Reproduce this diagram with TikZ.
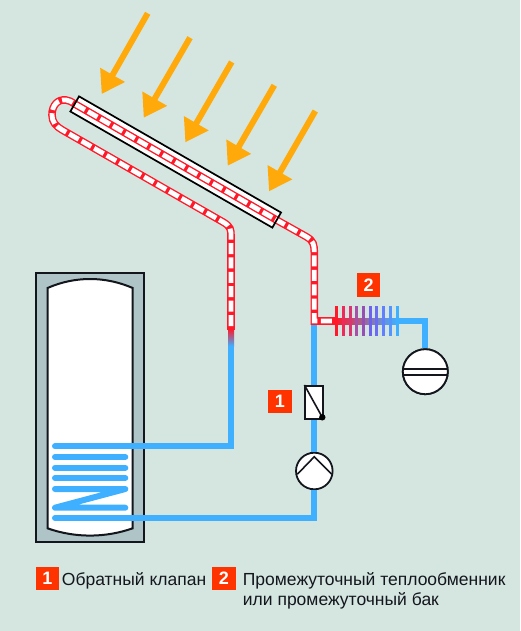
\documentclass[tikz,border=0pt]{standalone}
\usepackage{fontspec}
\setmainfont{Liberation Sans}
\usetikzlibrary{arrows.meta,calc}
\definecolor{bgc}{HTML}{D4E6DF}
\definecolor{tankc}{HTML}{AEC4C6}
\definecolor{pipeb}{HTML}{3FB0FF}
\definecolor{piper}{HTML}{FF1A2A}
\definecolor{sun}{HTML}{FFAA0A}
\definecolor{badgec}{HTML}{FF3300}
\definecolor{ink}{HTML}{14161E}
\tikzset{
  x=1pt,y=-1pt,
  sunray/.style={draw=sun,line width=6pt,-{Triangle[length=22pt,width=27pt,fill=sun]}},
  bluepipe/.style={draw=pipeb,line width=6pt},
  coil/.style={draw=pipeb,line width=6pt,line cap=round,line join=round},
  redouter/.style={draw=piper,line width=7.6pt},
  redinner/.style={draw=white,line width=4.8pt,dash pattern=on 11pt off 3.4pt},
  badge/.style={fill=badgec,minimum size=23.5pt,inner sep=0pt,text=white,font=\fontsize{18}{18}\selectfont\bfseries},
  label/.style={font=\fontsize{17.5}{19.3}\selectfont,text=ink,inner sep=0pt,anchor=base west,align=left},
  sym/.style={draw=ink,line width=1.8pt,fill=white,inner sep=0pt},
  fin/.style={line width=3pt},
}
\begin{document}
\begin{tikzpicture}
\useasboundingbox (0,0) rectangle (520,631);
\fill[bgc] (0,0) rectangle (520,631);
% tank
\node[draw=ink,fill=tankc,line width=1.7pt,minimum width=108pt,minimum height=268.4pt,inner sep=0pt] (tank) at (90.2,407.5) {};
\draw[draw=ink,fill=white,line width=2pt] (47.5,288) .. controls (75,276) and (105,276) .. (132.7,288) -- (132.7,528.3) .. controls (105,538) and (75,538) .. (47.5,528.3) -- cycle;
% sun rays
\coordinate (r1a) at (147.7,13.3); \coordinate (r1b) at (101.7,94);
\coordinate (r2a) at (190,37.7);   \coordinate (r2b) at (143.7,117.7);
\coordinate (r3a) at (231.7,62);   \coordinate (r3b) at (185.3,142.3);
\coordinate (r4a) at (274.3,85.3); \coordinate (r4b) at (227.7,165.7);
\coordinate (r5a) at (315.3,111);  \coordinate (r5b) at (269,191.3);
\foreach \k in {1,...,5} \draw[sunray] (r\k a) -- (r\k b);
% collector
\node[fill=white,minimum width=233pt,minimum height=17.4pt,inner sep=0pt,rotate=-29.9] (coll) at (175.7,162) {};
% blue circuit
\coordinate (j) at (314.3,321);
\coordinate (feed) at (231,340);
\coordinate (ctop) at (55,446.3);
\coordinate (cbot) at (55,518);
\node[sym,circle,minimum size=36.6pt] (pump) at (314.3,471) {};
\node[sym,minimum width=18pt,minimum height=33.4pt] (valve) at (314.3,402.6) {};
\node[sym,circle,minimum size=45pt] (comp) at (425.3,371.7) {};
\draw[bluepipe] (feed) -- (231,446.3) -- (ctop);
\draw[bluepipe] (cbot) -- (314.3,518) -- (pump.south);
\draw[bluepipe] (pump.north) -- (valve.south);
\draw[bluepipe] (valve.north) -- (j);
\draw[coil] (ctop) -- (ctop -| tank.center);
\draw[coil] (55,457) -- (125.3,457);
\draw[coil] (55,467.7) -- (125.3,467.7);
\draw[coil] (55,478) -- (125.3,478);
\draw[coil] (55,489) -- (125.3,489) -- (55,507.7) -- (125.3,507.7);
\draw[coil] (cbot) -- (cbot -| tank.center);
% colour change on the feed pipe
\fill[piper] (227.2,322) rectangle (234.8,330);
\shade[top color=piper,bottom color=pipeb,middle color=piper!50!pipeb] (228,329) rectangle (234,346);
% solar loop
\path (coll.west) coordinate (cw) (coll.east) coordinate (ce);
\def\solar{(231,326) -- (231,236) .. controls (231,230) and (231,226.6) .. (223,222) -- (62,129.8)
  .. controls (56,126.4) and (52,122) .. (52,115) .. controls (52,105) and (58,99) .. (66,100) .. controls (69,100.4) and (72,101.8) .. (cw) -- (ce) -- (306,236.5)
  .. controls (314,241) and (314,245) .. (314.3,252) -- (j) -- (336,321)}
\draw[redouter] \solar;
\draw[redinner] \solar;
% collector frame
\node[draw=black,line width=1.7pt,minimum width=233pt,minimum height=17.4pt,inner sep=0pt,rotate=-29.9] at (coll.center) {};
% exchanger
\shade[left color=piper,right color=pipeb,middle color=piper!45!pipeb] (335,318) rectangle (397,324);
\draw[bluepipe] (397,321) -- (425.3,321) -- (comp.north);
\foreach \fx/\fc in {336.7/FF1A2A,343.4/EE2A5C,350.1/DC3470,356.8/A84FA8,363.5/9450B4,370.2/6C62EE,376.9/6A6CF4,383.6/6080FF,390.3/5494FF,397/3FB0FF}
  {\definecolor{fc}{HTML}{\fc}\draw[fin,draw=fc] (\fx,306) -- (\fx,336);}
% compressor
\node[sym,circle,minimum size=45pt] (comp2) at (comp.center) {};
\draw[draw=ink,line width=1.8pt] (403.1,369) -- (447.5,369) (403.1,375) -- (447.5,375);
% valve details
\draw[draw=ink,line width=1.6pt] (valve.north west) -- (322.3,417.3);
\fill[black] (322.3,417.3) circle (3.2pt);
% pump details
\draw[draw=ink,line width=1.6pt,line join=miter] (297.3,474.3) -- (314.3,456.7) -- (331.7,474.3);
% badges and labels
\node[badge] (b1) at (280,401.7) {1};
\node[badge] (b2) at (368.7,285) {2};
\node[badge] (l1) at (47.5,578.3) {1};
\node[badge] (l2) at (224,578.3) {2};
\node[label] (t1) at (61.7,585.7) {Обратный клапан};
\node[label] (t2) at (242.7,605) {Промежуточный теплообменник\\или промежуточный бак};
\end{tikzpicture}
\end{document}
